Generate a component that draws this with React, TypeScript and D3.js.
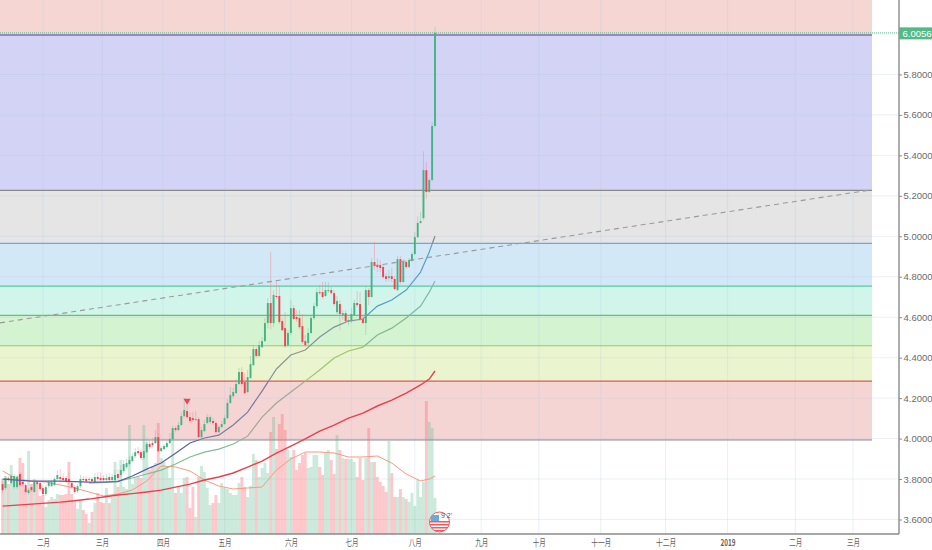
import React, { useEffect, useRef } from 'react';
import * as d3 from 'd3';

// daily bars, weekdays only, index 0 is early january
const opens = [3.775,3.755,3.805,3.780,3.760,3.760,3.825,3.785,3.770,3.731,3.760,3.736,3.785,3.780,3.755,3.726,3.765,3.765,3.770,3.800,
  3.810,3.805,3.805,3.800,3.780,3.760,3.740,3.765,3.800,3.800,3.795,3.800,3.785,3.810,3.805,3.805,3.795,3.810,3.795,3.795,
  3.825,3.820,3.839,3.859,3.874,3.889,3.913,3.938,3.933,3.904,3.933,3.973,3.978,3.978,4.007,3.938,3.948,3.958,3.978,3.998,
  4.052,4.042,4.067,4.111,4.136,4.106,4.101,4.092,4.096,4.007,4.037,4.077,4.082,4.087,4.077,4.032,4.057,4.072,4.101,4.176,
  4.210,4.225,4.270,4.329,4.279,4.230,4.299,4.363,4.443,4.408,4.452,4.482,4.571,4.670,4.571,4.705,4.705,4.581,4.546,4.462,
  4.522,4.645,4.601,4.596,4.556,4.482,4.472,4.522,4.596,4.655,4.724,4.724,4.705,4.729,4.734,4.719,4.625,4.665,4.611,4.620,
  4.581,4.581,4.611,4.670,4.665,4.591,4.571,4.734,4.700,4.873,4.858,4.858,4.848,4.803,4.794,4.803,4.789,4.734,4.887,4.774,
  4.873,4.848,4.878,4.912,4.996,5.066,5.090,5.327,5.219,5.278,5.545];
const closes = [3.745,3.805,3.795,3.815,3.815,3.810,3.770,3.775,3.736,3.745,3.745,3.785,3.775,3.750,3.726,3.760,3.785,3.785,3.800,3.820,
  3.800,3.795,3.790,3.785,3.760,3.736,3.765,3.800,3.795,3.790,3.800,3.790,3.810,3.800,3.795,3.795,3.805,3.795,3.810,3.820,
  3.805,3.844,3.874,3.879,3.894,3.913,3.933,3.928,3.904,3.938,3.973,3.958,3.968,4.007,3.938,3.953,3.963,3.978,3.998,4.052,
  4.042,4.067,4.111,4.141,4.106,4.087,4.092,4.096,4.007,4.042,4.072,4.106,4.106,4.077,4.032,4.057,4.072,4.101,4.176,4.215,
  4.230,4.270,4.329,4.270,4.225,4.304,4.368,4.443,4.408,4.462,4.482,4.571,4.670,4.571,4.710,4.700,4.576,4.536,4.457,4.522,
  4.645,4.591,4.591,4.551,4.477,4.462,4.522,4.596,4.655,4.724,4.719,4.700,4.734,4.734,4.719,4.665,4.680,4.616,4.620,4.581,
  4.586,4.616,4.670,4.660,4.591,4.571,4.734,4.700,4.873,4.853,4.848,4.843,4.798,4.789,4.803,4.789,4.739,4.887,4.774,4.873,
  4.848,4.883,4.912,4.996,5.066,5.075,5.327,5.219,5.278,5.545,6.006];
const highs = [3.790,3.815,3.815,3.825,3.825,3.820,3.834,3.795,3.780,3.755,3.770,3.795,3.795,3.790,3.765,3.770,3.795,3.795,3.810,3.844,
  3.849,3.830,3.815,3.834,3.790,3.770,3.775,3.820,3.815,3.815,3.810,3.810,3.830,3.834,3.834,3.820,3.825,3.830,3.825,3.844,
  3.849,3.869,3.894,3.899,3.913,3.928,3.953,3.958,3.948,3.993,4.003,3.993,4.003,4.042,4.027,3.963,3.973,3.988,4.027,4.062,
  4.062,4.082,4.131,4.200,4.166,4.131,4.131,4.136,4.106,4.057,4.092,4.121,4.116,4.101,4.087,4.067,4.087,4.116,4.195,4.255,
  4.250,4.294,4.349,4.354,4.324,4.339,4.408,4.462,4.452,4.482,4.502,4.596,4.695,4.922,4.734,4.784,4.759,4.596,4.625,4.536,
  4.685,4.660,4.635,4.635,4.616,4.512,4.546,4.606,4.670,4.744,4.759,4.774,4.774,4.774,4.754,4.734,4.705,4.685,4.635,4.635,
  4.601,4.645,4.685,4.729,4.724,4.606,4.754,4.744,4.892,4.972,4.892,4.883,4.863,4.818,4.833,4.843,4.803,4.902,4.902,4.887,
  4.883,4.892,4.922,5.021,5.100,5.120,5.421,5.367,5.288,5.565,6.035];
const lows = [3.731,3.745,3.785,3.770,3.750,3.750,3.760,3.765,3.726,3.721,3.736,3.731,3.765,3.740,3.716,3.716,3.755,3.760,3.765,3.795,
  3.790,3.785,3.780,3.775,3.750,3.726,3.731,3.755,3.785,3.780,3.790,3.785,3.780,3.790,3.785,3.785,3.790,3.790,3.790,3.790,
  3.795,3.810,3.830,3.849,3.864,3.884,3.904,3.918,3.894,3.894,3.928,3.948,3.958,3.973,3.928,3.933,3.943,3.953,3.973,3.993,
  4.032,4.037,4.062,4.106,4.096,4.077,4.082,4.087,4.003,4.003,4.032,4.072,4.072,4.067,4.022,4.022,4.052,4.067,4.096,4.171,
  4.200,4.220,4.265,4.260,4.220,4.225,4.294,4.358,4.398,4.403,4.447,4.477,4.546,4.541,4.551,4.690,4.566,4.532,4.447,4.452,
  4.512,4.586,4.576,4.541,4.467,4.452,4.462,4.517,4.586,4.645,4.710,4.690,4.700,4.719,4.710,4.655,4.616,4.536,4.586,4.571,
  4.561,4.571,4.606,4.650,4.581,4.566,4.512,4.660,4.695,4.833,4.823,4.823,4.789,4.774,4.779,4.774,4.734,4.729,4.764,4.769,
  4.838,4.843,4.873,4.907,4.991,5.061,5.080,5.184,5.214,5.273,5.540];
// no scale on the volume pane in the picture, units are arbitrary
const volumes = [55,58,50,69,55,58,76,71,45,83,50,55,50,38,39,27,34,37,35,40,
  39,39,40,72,40,32,25,33,24,20,11,22,31,41,32,31,46,31,37,72,
  47,74,47,45,109,50,56,57,56,109,92,64,67,71,111,76,72,66,56,101,
  41,47,41,56,57,26,47,17,57,68,62,46,29,31,39,31,51,46,45,41,
  39,39,51,57,47,37,48,80,74,57,66,71,61,102,117,85,110,120,104,84,
  77,84,64,71,79,81,66,67,79,79,67,59,82,84,74,60,99,84,76,75,
  75,75,72,57,76,54,76,106,72,72,57,52,48,42,93,61,37,37,45,37,
  35,32,41,28,54,37,52,133,112,106,36];

// moving averages read every 5 bars, then the last bars
const maIndex = [0,5,10,15,20,25,30,35,40,45,50,55,60,65,70,75,80,85,90,95,100,105,110,115,120,125,130,135,140,145,148,150];
const fastMa = [3.800,3.795,3.790,3.790,3.790,3.787,3.785,3.785,3.787,3.815,3.849,3.879,3.928,3.978,4.003,4.017,4.067,4.131,4.235,4.344,4.413,4.438,4.502,4.551,4.581,4.591,4.655,4.685,4.734,4.823,4.922,5.001];
const slowMa = [3.780,3.783,3.790,3.805,3.825,3.844,3.874,3.909,3.933,3.948,3.973,4.012,4.106,4.176,4.230,4.284,4.339,4.398,4.433,4.452,4.512,4.546,4.596,4.655,4.724,4.779];
const longMa = [3.666,3.671,3.676,3.681,3.686,3.693,3.701,3.711,3.721,3.728,3.736,3.745,3.760,3.775,3.795,3.810,3.830,3.859,3.889,3.928,3.963,3.998,4.037,4.067,4.101,4.126,4.161,4.190,4.225,4.265,4.294,4.334];
const volumeMa = [63,55,53,52,49,46,42,38,40,44,53,68,67,63,54,48,45,46,47,64,75,82,82,81,77,77,78,71,60,53,55,58];

const fibLevels = [6.168,5.995,5.227,4.965,4.754,4.609,4.459,4.284,3.993];
const fibFills = ['#f5d6d3','#d3d3f5','#e5e5e5','#d3e8f6','#d1f5eb','#d4f3d1','#eaf5d0','#f5d4d4'];
const fibLines = ['#4c43a3','#8a8a8a','#6fa8d8','#55c9a2','#64c272','#92ca5c','#d85a56','#8f8a8a'];

const trendIndex = [-0.9, 301.5];
const trendPrice = [4.572, 5.230];

const priceTicks = [3.6,3.8,4.0,4.2,4.4,4.6,4.8,5.0,5.2,5.4,5.6,5.8];
const monthLabels = ['二月','三月','四月','五月','六月','七月','八月','九月','十月','十一月','十二月','2019','二月','三月'];
const monthIndex = [14,34.5,55.6,77,100,121,143,166,186,207.5,230,251.5,275,295];
const lastPrice = 6.0056;

const App = () => {
  const ref = useRef<SVGSVGElement>(null);

  useEffect(() => {
    const width = 932;
    const height = 550;
    const plotRight = 872;
    const axisX = 899;
    const axisY = 534;
    const svg = d3.select(ref.current);
    svg.selectAll('*').remove();

    const xScale = d3.scaleLinear().domain([0, 295]).range([2.6, 853]);
    const yScale = d3.scaleLinear().domain([6.0, 3.6]).range([34, 519.5]);
    const volScale = d3.scaleLinear().domain([0, 140]).range([axisY, axisY - 140]);
    const step = xScale(1) - xScale(0);
    const up = (i: number) => closes[i] >= opens[i];

    const defs = svg.append('defs');
    const clip = defs.append('clipPath').attr('id', 'flagClip');
    clip.append('circle').attr('cx', 439.5).attr('cy', 522).attr('r', 10);

    // ma colours shift with the band behind them
    const gradient = (id: string, colors: string[]) => {
      const g = defs.append('linearGradient')
        .attr('id', id)
        .attr('gradientUnits', 'userSpaceOnUse')
        .attr('x1', 0).attr('x2', 0).attr('y1', 0).attr('y2', height);
      colors.forEach((c, i) => {
        const top = i === 0 ? 0 : yScale(fibLevels[i]) / height;
        const bottom = i < fibLevels.length - 1 ? yScale(fibLevels[i + 1]) / height : 1;
        g.append('stop').attr('offset', top).attr('stop-color', c);
        g.append('stop').attr('offset', bottom).attr('stop-color', c);
      });
    };
    gradient('fastGrad', ['#777','#777','#808080','#5a9ed2','#5a9cc0','#84909e','#8a9498','#7a7a9c','#5c5ca8']);
    gradient('slowGrad', ['#777','#777','#888','#80bcaa','#80baa6','#84b88a','#9cc470','#9fa896','#80bc92']);

    // bands
    fibFills.forEach((fill, i) => {
      svg.append('rect')
        .attr('x', 0)
        .attr('y', yScale(fibLevels[i]))
        .attr('width', plotRight)
        .attr('height', yScale(fibLevels[i + 1]) - yScale(fibLevels[i]))
        .attr('fill', fill);
    });

    // grid
    priceTicks.concat([6.0]).forEach((t) => {
      svg.append('line')
        .attr('x1', 0).attr('x2', axisX)
        .attr('y1', yScale(t)).attr('y2', yScale(t))
        .attr('stroke', '#b8c8de').attr('stroke-opacity', 0.28).attr('stroke-width', 1);
    });
    monthIndex.forEach((t) => {
      svg.append('line')
        .attr('x1', xScale(t)).attr('x2', xScale(t))
        .attr('y1', 0).attr('y2', axisY)
        .attr('stroke', '#b8c8de').attr('stroke-opacity', 0.28).attr('stroke-width', 1);
    });

    fibLevels.slice(1).forEach((level, i) => {
      svg.append('line')
        .attr('x1', 0).attr('x2', plotRight)
        .attr('y1', yScale(level)).attr('y2', yScale(level))
        .attr('stroke', fibLines[i]).attr('stroke-width', 1.2);
    });

    // volume
    svg.append('g').selectAll('rect')
      .data(volumes)
      .enter()
      .append('rect')
      .attr('x', (_d, i) => xScale(i) - step / 2)
      .attr('y', (d) => volScale(d))
      .attr('width', step)
      .attr('height', (d) => axisY - volScale(d))
      .attr('fill', (_d, i) => (up(i) ? '#53b987' : '#fb6e75'))
      .attr('fill-opacity', (_d, i) => (up(i) ? 0.3 : 0.38));

    const lineFn = (idx: number[]) => d3.line<number>()
      .x((_d, i) => xScale(idx[i]))
      .y((d) => yScale(d));

    svg.append('path')
      .attr('d', d3.line<number>()
        .x((_d, i) => xScale(maIndex[i]))
        .y((d) => volScale(d))(volumeMa)!)
      .attr('fill', 'none')
      .attr('stroke', '#f59a82')
      .attr('stroke-width', 1);

    // candles
    const candles = svg.append('g');
    closes.forEach((c, i) => {
      candles.append('line')
        .attr('x1', xScale(i)).attr('x2', xScale(i))
        .attr('y1', yScale(highs[i])).attr('y2', yScale(lows[i]))
        .attr('stroke', up(i) ? '#7fbfa0' : '#f08a90')
        .attr('stroke-opacity', 0.45)
        .attr('stroke-width', 1);
      candles.append('rect')
        .attr('x', xScale(i) - 0.95)
        .attr('y', yScale(Math.max(opens[i], c)))
        .attr('width', 1.9)
        .attr('height', Math.max(1, Math.abs(yScale(opens[i]) - yScale(c))))
        .attr('fill', up(i) ? '#44b484' : '#ee4450');
    });

    // moving averages
    svg.append('path')
      .attr('d', lineFn(maIndex)(longMa)!)
      .attr('fill', 'none').attr('stroke', '#e8414c').attr('stroke-width', 1.4);
    svg.append('path')
      .attr('d', lineFn(maIndex.slice(6))(slowMa)!)
      .attr('fill', 'none').attr('stroke', 'url(#slowGrad)').attr('stroke-width', 1.2);
    svg.append('path')
      .attr('d', lineFn(maIndex)(fastMa)!)
      .attr('fill', 'none').attr('stroke', 'url(#fastGrad)').attr('stroke-width', 1.2);

    // trend line
    svg.append('path')
      .attr('d', lineFn(trendIndex)(trendPrice)!)
      .attr('fill', 'none')
      .attr('stroke', '#9a9a9a')
      .attr('stroke-width', 1.1)
      .attr('stroke-dasharray', '5,4');

    // sell marker
    svg.append('path')
      .attr('d', d3.symbol().type(d3.symbolTriangle).size(22)()!)
      .attr('transform', `translate(${xScale(64)},${yScale(4.187)}) rotate(180)`)
      .attr('fill', '#ee4450');

    // last price line
    svg.append('line')
      .attr('x1', 0).attr('x2', axisX)
      .attr('y1', yScale(lastPrice)).attr('y2', yScale(lastPrice))
      .attr('stroke', '#53b987')
      .attr('stroke-opacity', 0.75)
      .attr('stroke-width', 1.2)
      .attr('stroke-dasharray', '1,1');

    // axes
    const yAxis = svg.append('g')
      .attr('transform', `translate(${axisX},0)`)
      .call(d3.axisRight(yScale).tickValues(priceTicks).tickSize(3).tickFormat((d) => (d as number).toFixed(5)) as any);
    yAxis.select('.domain').attr('d', `M0,0V${axisY}`).attr('stroke', '#8a8a8a').attr('stroke-width', 1.4);
    yAxis.selectAll('.tick line').attr('stroke', '#8a8a8a');
    yAxis.selectAll('.tick text')
      .attr('x', 4.5)
      .attr('fill', '#6b6b6b')
      .attr('font-size', 9.5)
      .attr('font-family', '"Liberation Sans Narrow", "Liberation Sans", Arial, sans-serif');

    const xAxis = svg.append('g')
      .attr('transform', `translate(0,${axisY})`)
      .call(d3.axisBottom(xScale)
        .tickValues(monthIndex)
        .tickSize(0)
        .tickFormat((_d, i) => monthLabels[i]) as any);
    xAxis.select('.domain').attr('d', `M0,0H${axisX}`).attr('stroke', '#8a8a8a').attr('stroke-width', 1.4);
    xAxis.selectAll('.tick text')
      .attr('y', 5)
      .attr('fill', '#5f5f5f')
      .attr('font-size', 9.5)
      .attr('font-family', '"Noto Sans CJK SC", sans-serif')
      .attr('font-weight', (_d, i) => (monthLabels[i] === '2019' ? 700 : 400))
      .attr('textLength', (_d, i) => (monthLabels[i].length === 2 ? 13 : monthLabels[i].length === 3 ? 20 : 15))
      .attr('lengthAdjust', 'spacingAndGlyphs');

    // last price tag
    svg.append('rect')
      .attr('x', axisX).attr('y', yScale(lastPrice) - 5.5)
      .attr('width', width - axisX).attr('height', 12)
      .attr('fill', '#53b987');
    svg.append('text')
      .attr('x', axisX + 3.5).attr('y', yScale(lastPrice) + 4)
      .attr('fill', '#fff')
      .attr('font-size', 9.5)
      .attr('font-family', '"Liberation Sans Narrow", "Liberation Sans", Arial, sans-serif')
      .text(lastPrice.toFixed(5));

    // little flag badge at the end of the bars
    const badge = svg.append('g');
    badge.append('circle').attr('cx', 439.5).attr('cy', 522).attr('r', 10)
      .attr('fill', '#fff').attr('stroke', '#ee5a60').attr('stroke-width', 1);
    const flag = badge.append('g').attr('clip-path', 'url(#flagClip)');
    [521, 524, 527, 530].forEach((y) => {
      flag.append('rect').attr('x', 429).attr('y', y).attr('width', 21).attr('height', 1.5).attr('fill', '#ee5a60');
    });
    flag.append('rect').attr('x', 431).attr('y', 515).attr('width', 8).attr('height', 6).attr('fill', '#6fa8d8');
    badge.append('text')
      .attr('x', 441).attr('y', 518)
      .attr('font-size', 7)
      .attr('fill', '#555')
      .attr('font-family', '"Liberation Sans", Arial, sans-serif')
      .text("9 2'");
  }, []);

  return (
    <svg
      ref={ref}
      width={932}
      height={550}
      style={{ position: 'fixed', left: 0, top: 0, background: '#fff' }}
    />
  );
};

export default App;
